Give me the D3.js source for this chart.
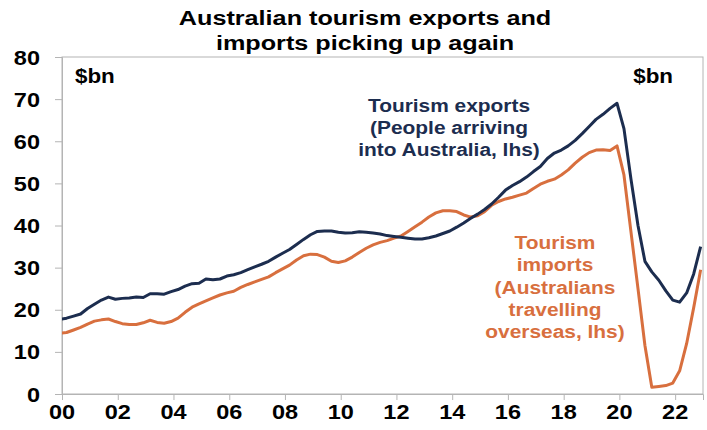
<!DOCTYPE html>
<html>
<head>
<meta charset="utf-8">
<script src="https://cdn.jsdelivr.net/npm/d3@7"></script>
<style>
  body { margin: 0; background: #fff; }
  svg { display: block; font-family: "Liberation Sans", Arial, sans-serif; }
</style>
</head>
<body>
<div id="chart"></div>
<script>
// quarter-end months, Dec 1999 to Dec 2022
const quarters = [
  '1999-12',
  '2000-03', '2000-06', '2000-09', '2000-12',
  '2001-03', '2001-06', '2001-09', '2001-12',
  '2002-03', '2002-06', '2002-09', '2002-12',
  '2003-03', '2003-06', '2003-09', '2003-12',
  '2004-03', '2004-06', '2004-09', '2004-12',
  '2005-03', '2005-06', '2005-09', '2005-12',
  '2006-03', '2006-06', '2006-09', '2006-12',
  '2007-03', '2007-06', '2007-09', '2007-12',
  '2008-03', '2008-06', '2008-09', '2008-12',
  '2009-03', '2009-06', '2009-09', '2009-12',
  '2010-03', '2010-06', '2010-09', '2010-12',
  '2011-03', '2011-06', '2011-09', '2011-12',
  '2012-03', '2012-06', '2012-09', '2012-12',
  '2013-03', '2013-06', '2013-09', '2013-12',
  '2014-03', '2014-06', '2014-09', '2014-12',
  '2015-03', '2015-06', '2015-09', '2015-12',
  '2016-03', '2016-06', '2016-09', '2016-12',
  '2017-03', '2017-06', '2017-09', '2017-12',
  '2018-03', '2018-06', '2018-09', '2018-12',
  '2019-03', '2019-06', '2019-09', '2019-12',
  '2020-03', '2020-06', '2020-09', '2020-12',
  '2021-03', '2021-06', '2021-09', '2021-12',
  '2022-03', '2022-06', '2022-09', '2022-12'
];

// tourism exports, $bn (annual)
const exportsBn = [
  17.7,
  18.0, 18.5, 19.0, 20.3,
  21.3, 22.3, 23.0, 22.5,
  22.7, 22.8, 23.0, 22.9,
  23.8, 23.8, 23.7, 24.3,
  24.8, 25.6, 26.2, 26.3,
  27.3, 27.1, 27.3, 28.0,
  28.3, 28.8, 29.5, 30.2,
  30.8, 31.5, 32.5, 33.4,
  34.3, 35.5, 36.7, 37.8,
  38.6, 38.7, 38.7, 38.4,
  38.2, 38.3, 38.5, 38.4,
  38.2, 38.0, 37.6, 37.4,
  37.2, 37.0, 36.8, 36.8,
  37.1, 37.5, 38.1, 38.7,
  39.6, 40.6, 41.7, 42.7,
  43.8, 45.1, 46.7, 48.4,
  49.5, 50.4, 51.5, 52.8,
  54.0, 55.9, 57.2, 57.9,
  58.9, 60.2, 61.8, 63.5,
  65.2, 66.4, 67.8, 69.0,
  63.0, 51.0, 40.0, 31.5,
  29.0, 27.0, 24.5, 22.3,
  21.8, 24.0, 28.5, 35.0
];

// tourism imports, $bn (annual)
const importsBn = [
  14.4,
  14.6, 15.2, 15.8, 16.6,
  17.3, 17.6, 17.8, 17.2,
  16.7, 16.5, 16.5, 16.9,
  17.5, 17.0, 16.8, 17.2,
  18.0, 19.4, 20.6, 21.4,
  22.1, 22.8, 23.5, 24.0,
  24.4, 25.3, 26.0, 26.6,
  27.2, 27.8, 28.8, 29.7,
  30.6, 31.8, 32.8, 33.2,
  33.1, 32.5, 31.5, 31.2,
  31.6, 32.5, 33.6, 34.6,
  35.4, 36.0, 36.4, 37.0,
  37.5, 38.6, 39.7, 40.8,
  42.0, 43.0, 43.5, 43.5,
  43.3, 42.5, 42.0, 42.3,
  43.3, 44.8, 45.7, 46.3,
  46.7, 47.2, 47.7, 48.8,
  49.8, 50.5, 51.0, 52.0,
  53.2, 54.8, 56.2, 57.3,
  57.9, 58.0, 57.8, 58.9,
  52.0, 38.5, 25.0, 11.5,
  1.6, 1.8, 2.0, 2.6,
  5.5, 12.0, 20.5, 29.5
];

const yTicks = [0, 10, 20, 30, 40, 50, 60, 70, 80];
const xTickYears = [2000, 2002, 2004, 2006, 2008, 2010, 2012, 2014, 2016, 2018, 2020, 2022];

const titleLines = ['Australian tourism exports and', 'imports picking up again'];
const exportsLabel = ['Tourism exports', '(People arriving', 'into Australia, lhs)'];
const importsLabel = ['Tourism', 'imports', '(Australians', 'travelling', 'overseas, lhs)'];

const navy = '#1c2d4f';
const orange = '#d86f3e';
const axisGrey = '#b4b4b4';

const W = 707, H = 430;
const margin = { top: 57, right: 4, bottom: 36, left: 62 };
const width = W - margin.left - margin.right,
    height = H - margin.top - margin.bottom;

const parse = d3.timeParse('%Y-%m');
const dates = quarters.map(parse);

const svg = d3.select('#chart').append('svg')
    .attr('width', W)
    .attr('height', H);

const x = d3.scaleTime()
    .domain([new Date(2000, 0, 1), new Date(2023, 0, 1)])
    .range([0, width]);
const y = d3.scaleLinear()
    .domain([0, 80])
    .range([height, 0]);

const g = svg.append('g')
    .attr('transform', `translate(${margin.left},${margin.top})`);

svg.append('defs').append('clipPath')
    .attr('id', 'plotClip')
    .append('rect')
    .attr('width', width)
    .attr('height', height);

// stretched bold text helper (reference text is wide)
function wideText(parent, str, px, py, size, anchor, color, sx) {
    parent.append('text')
        .attr('transform', `translate(${px},${py}) scale(${sx},1)`)
        .attr('text-anchor', anchor)
        .attr('font-size', size)
        .attr('font-weight', 'bold')
        .attr('fill', color)
        .text(str);
}

// plot frame
g.append('rect')
    .attr('width', width)
    .attr('height', height)
    .attr('fill', 'none')
    .attr('stroke', axisGrey)
    .attr('stroke-width', 1);

// y axis
const yAxis = g.append('g')
    .call(d3.axisLeft(y).tickValues(yTicks).tickSize(7).tickFormat(''));
yAxis.select('.domain').attr('stroke', axisGrey);
yAxis.selectAll('line').attr('stroke', axisGrey);
yTicks.forEach(v => {
    wideText(g, String(v), -22, y(v) + 7.5, 21, 'end', '#000', 1.12);
});

// x axis
const xAxis = g.append('g')
    .attr('transform', `translate(0,${height})`)
    .call(d3.axisBottom(x)
        .tickValues(xTickYears.map(yr => new Date(yr, 0, 1)))
        .tickSize(6)
        .tickFormat(''));
xAxis.select('.domain').attr('stroke', axisGrey);
xAxis.selectAll('line').attr('stroke', axisGrey);
xTickYears.forEach(yr => {
    wideText(g, d3.timeFormat('%y')(new Date(yr, 0, 1)), x(new Date(yr, 0, 1)), height + 25, 21, 'middle', '#000', 1.12);
});

// lines
const line = vals => d3.line()
    .x((d, i) => x(dates[i]))
    .y(d => y(d))(vals);

const plot = g.append('g').attr('clip-path', 'url(#plotClip)');

plot.append('path')
    .attr('d', line(importsBn))
    .attr('fill', 'none')
    .attr('stroke', orange)
    .attr('stroke-width', 3)
    .attr('stroke-linejoin', 'round');

plot.append('path')
    .attr('d', line(exportsBn))
    .attr('fill', 'none')
    .attr('stroke', navy)
    .attr('stroke-width', 3)
    .attr('stroke-linejoin', 'round');

// units
wideText(svg, '$bn', 75, 83, 20, 'start', '#000', 1.12);
wideText(svg, '$bn', 673, 83, 20, 'end', '#000', 1.12);

// title
titleLines.forEach((t, i) => {
    wideText(svg, t, 365, 25 + i * 25, 21, 'middle', '#000', 1.2);
});

// series labels
exportsLabel.forEach((t, i) => {
    wideText(svg, t, 449, 112 + i * 22, 19, 'middle', navy, 1.1);
});
importsLabel.forEach((t, i) => {
    wideText(svg, t, 555, 249 + i * 22.3, 19, 'middle', orange, 1.1);
});
</script>
</body>
</html>
